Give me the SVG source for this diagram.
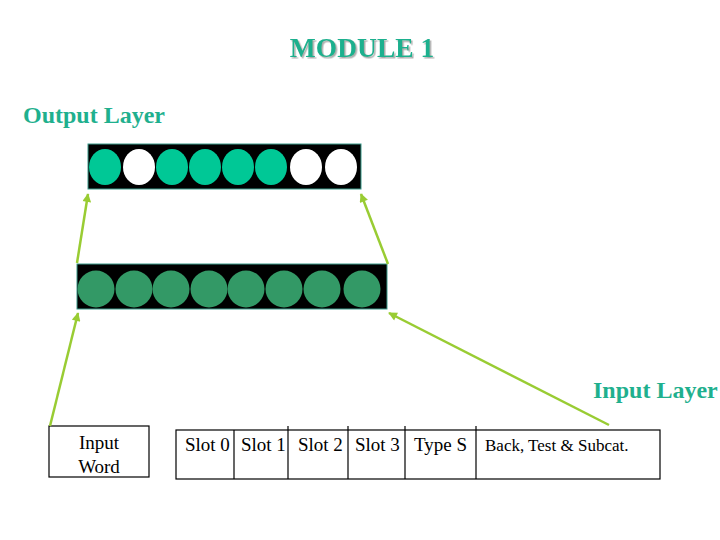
<svg xmlns="http://www.w3.org/2000/svg" width="720" height="540" viewBox="0 0 720 540">
  <defs>
    <marker id="arr" viewBox="0 0 10 10" refX="9" refY="5" markerWidth="4" markerHeight="3.5" orient="auto" markerUnits="strokeWidth">
      <path d="M0,0 L10,5 L0,10 z" fill="#99cc33"/>
    </marker>
    <filter id="shadow" x="-10%" y="-20%" width="120%" height="140%">
      <feDropShadow dx="1.5" dy="1.5" stdDeviation="0.6" flood-color="#999999" flood-opacity="0.8"/>
    </filter>
  </defs>
  <style>
    .title { font-family: "Liberation Serif", "Times New Roman", serif; font-weight: bold; fill: #1fb08e; }
    .label { font-family: "Liberation Serif", "Times New Roman", serif; fill: #000; }
    .bar { fill: #000; stroke: #3a9a8a; stroke-width: 1; }
    .out-on { fill: #00c896; }
    .out-off { fill: #ffffff; }
    .in { fill: #339966; }
    .box { fill: #fff; stroke: #000; stroke-width: 1.2; }
    .div { stroke: #000; stroke-width: 1.2; }
    .conn { stroke: #99cc33; stroke-width: 2.5; fill: none; marker-end: url(#arr); }
  </style>
  <rect width="720" height="540" fill="#fff"/>

  <g id="title">
    <text class="title" x="362" y="57" font-size="27.5" text-anchor="middle" filter="url(#shadow)">MODULE 1</text>
  </g>
  <g id="output-label">
    <text class="title" x="23" y="123" font-size="24">Output Layer</text>
  </g>
  <g id="input-label">
    <text class="title" x="593" y="398" font-size="24">Input Layer</text>
  </g>

  <g id="output-layer">
    <rect class="bar" x="88" y="144" width="273" height="45"/>
    <ellipse class="out-on" cx="105" cy="167" rx="16" ry="18"/>
    <ellipse class="out-off" cx="139" cy="167" rx="16" ry="18"/>
    <ellipse class="out-on" cx="172" cy="167" rx="16" ry="18"/>
    <ellipse class="out-on" cx="205" cy="167" rx="16" ry="18"/>
    <ellipse class="out-on" cx="238" cy="167" rx="16" ry="18"/>
    <ellipse class="out-on" cx="271" cy="167" rx="16" ry="18"/>
    <ellipse class="out-off" cx="306" cy="167" rx="16" ry="18"/>
    <ellipse class="out-off" cx="341" cy="167" rx="16" ry="18"/>
  </g>

  <g id="hidden-layer">
    <rect class="bar" x="77" y="264" width="310" height="45"/>
    <circle class="in" cx="96" cy="289" r="18.5"/>
    <circle class="in" cx="134" cy="289" r="18.5"/>
    <circle class="in" cx="171" cy="289" r="18.5"/>
    <circle class="in" cx="209" cy="289" r="18.5"/>
    <circle class="in" cx="246" cy="289" r="18.5"/>
    <circle class="in" cx="284" cy="289" r="18.5"/>
    <circle class="in" cx="322" cy="289" r="18.5"/>
    <circle class="in" cx="362" cy="289" r="18.5"/>
  </g>

  <g id="input-word">
    <rect class="box" x="49" y="426" width="100" height="51"/>
    <text class="label" x="99" y="449" font-size="19" text-anchor="middle">Input</text>
    <text class="label" x="99" y="473" font-size="19" text-anchor="middle">Word</text>
  </g>

  <g id="slots">
    <rect class="box" x="176" y="430" width="484" height="49"/>
    <line class="div" x1="234" y1="430" x2="234" y2="479"/>
    <line class="div" x1="288" y1="426" x2="288" y2="479"/>
    <line class="div" x1="348" y1="426" x2="348" y2="479"/>
    <line class="div" x1="405" y1="426" x2="405" y2="479"/>
    <line class="div" x1="476" y1="426" x2="476" y2="479"/>
    <text class="label" x="185" y="451" font-size="19">Slot 0</text>
    <text class="label" x="241" y="451" font-size="19">Slot 1</text>
    <text class="label" x="298" y="451" font-size="19">Slot 2</text>
    <text class="label" x="355" y="451" font-size="19">Slot 3</text>
    <text class="label" x="414" y="451" font-size="19">Type S</text>
    <text class="label" x="485" y="451" font-size="17">Back, Test &amp; Subcat.</text>
  </g>

  <g id="connectors">
    <line class="conn" x1="77" y1="263" x2="88" y2="194"/>
    <line class="conn" x1="388" y1="264" x2="361" y2="194"/>
    <line class="conn" x1="50" y1="426" x2="78" y2="313"/>
    <line class="conn" x1="609" y1="425" x2="389" y2="313"/>
  </g>
</svg>
